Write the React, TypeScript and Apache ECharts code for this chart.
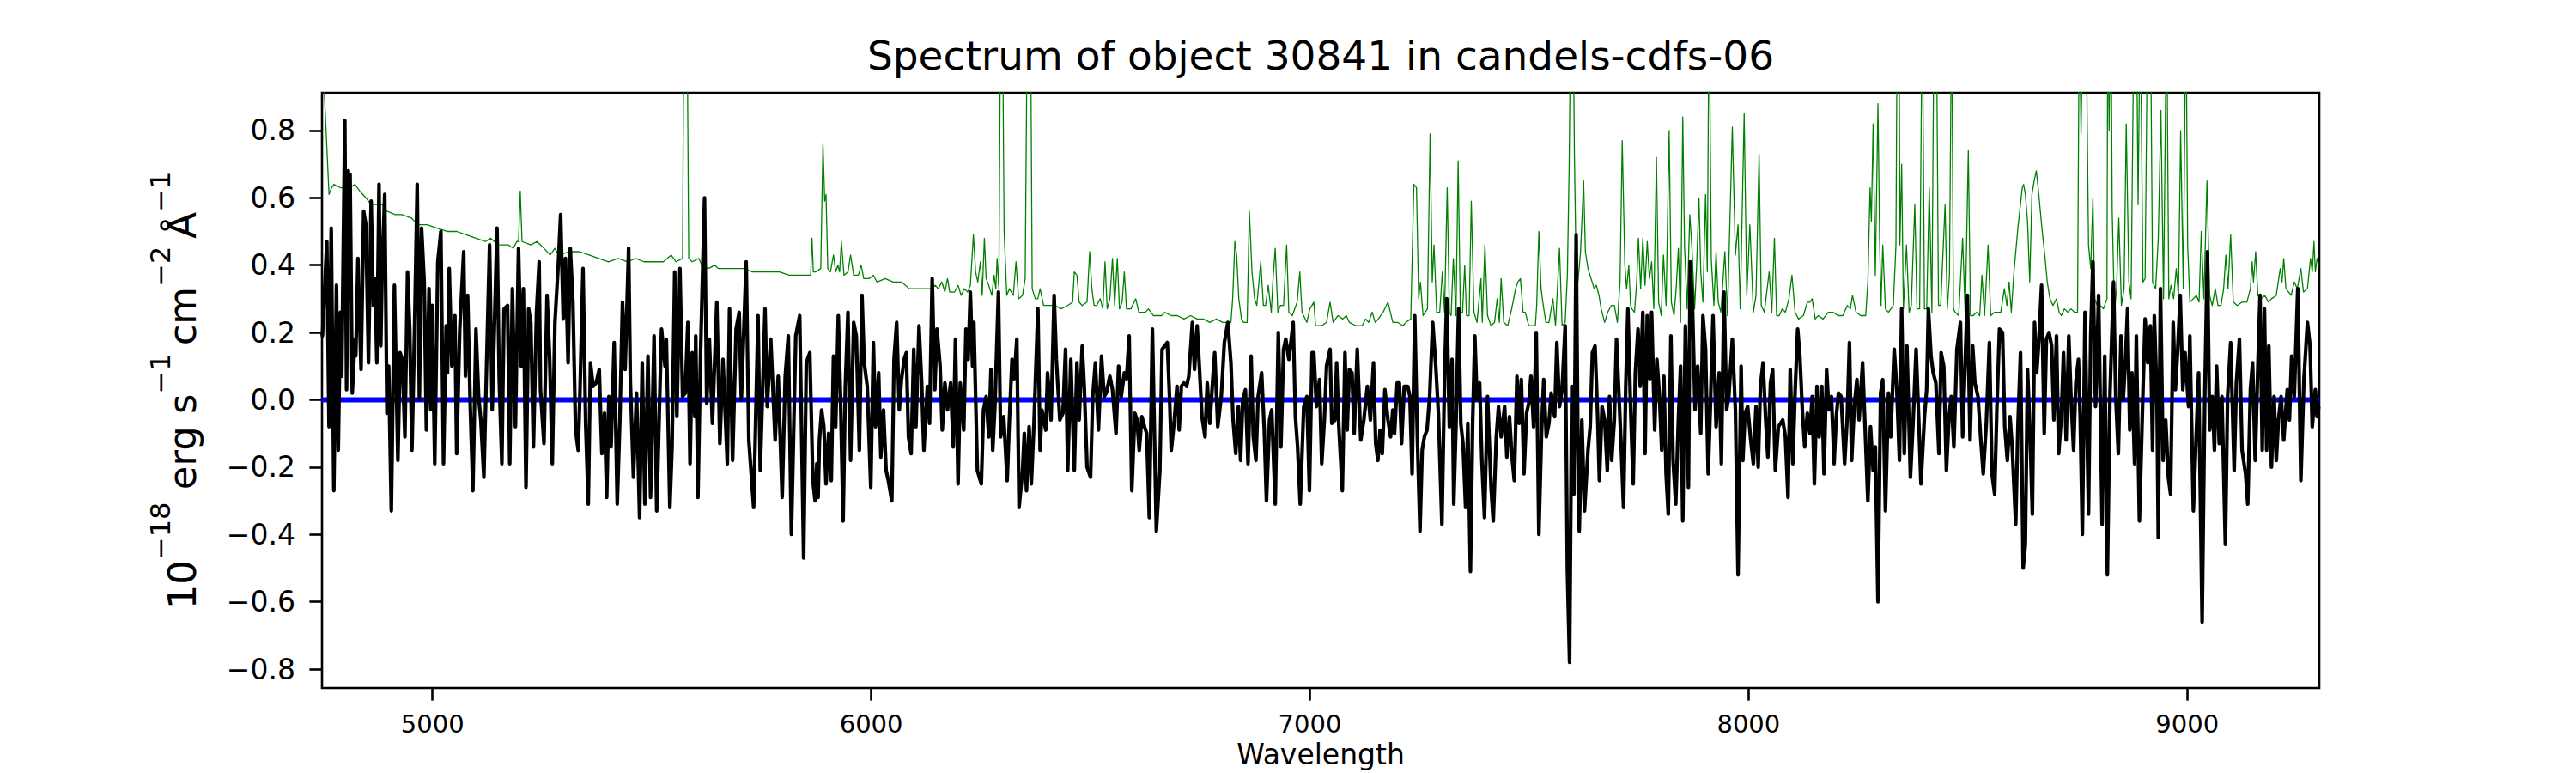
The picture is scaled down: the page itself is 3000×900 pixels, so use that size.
import React, { useEffect, useRef } from "react";
import * as echarts from "echarts";

const TITLE = "Spectrum of object 30841 in candels-cdfs-06";
const X_NAME = "Wavelength";
const X_RANGE = [4748, 9301];
const Y_RANGE = [-0.856, 0.912];
const X_TICKS = [5000, 6000, 7000, 8000, 9000];
const Y_TICKS = [-0.8, -0.6, -0.4, -0.2, 0, 0.2, 0.4, 0.6, 0.8];

// zero reference line
const zeroLine: [number, number][] = [[4748, 0], [9301, 0]];

// observed flux (black)
const flux: [number, number][] = [
[4748,0.20],[4749,0.19],[4759,0.47],[4764,-0.08],[4769,0.51],[4775,-0.27],[4781,0.34],[4785,-0.15],[4790,0.26],[4793,0.07],[4800,0.83],[4804,0.03],[4808,0.68],[4810,0.30],[4812,0.67],[4817,0.02],[4823,0.18],[4825,0.13],[4830,0.42],[4837,0.09],[4843,0.56],[4848,0.52],[4854,0.11],[4860,0.59],[4865,0.28],[4869,0.36],[4873,0.11],[4878,0.64],[4882,0.16],[4885,0.38],[4891,0.61],[4896,-0.04],[4900,0.10],[4906,-0.33],[4913,0.34],[4921,-0.18],[4926,0.14],[4931,0.12],[4937,-0.11],[4943,0.38],[4948,0.21],[4953,-0.15],[4959,0.21],[4965,0.64],[4970,0.00],[4975,0.51],[4981,0.35],[4986,-0.09],[4992,0.33],[4996,-0.03],[4999,0.28],[5005,-0.19],[5012,0.41],[5019,0.50],[5025,-0.19],[5031,0.22],[5034,0.08],[5038,0.39],[5044,0.10],[5051,0.25],[5055,-0.16],[5062,0.21],[5071,0.44],[5075,0.07],[5080,0.31],[5086,-0.02],[5092,-0.27],[5099,0.21],[5105,0.01],[5110,-0.06],[5117,-0.23],[5125,0.20],[5130,0.46],[5136,-0.03],[5147,0.51],[5152,0.06],[5158,-0.19],[5163,0.27],[5171,0.28],[5176,-0.19],[5182,0.33],[5189,-0.08],[5196,0.45],[5202,0.10],[5207,0.33],[5213,-0.26],[5219,0.27],[5224,0.23],[5230,-0.14],[5237,0.26],[5243,0.41],[5246,0.03],[5254,-0.13],[5261,0.31],[5267,0.12],[5273,-0.19],[5279,0.23],[5287,0.41],[5292,0.55],[5298,0.24],[5303,0.42],[5309,0.11],[5314,0.45],[5320,0.29],[5326,-0.09],[5332,-0.15],[5336,0.02],[5343,0.39],[5349,-0.07],[5355,-0.31],[5360,0.11],[5366,0.04],[5373,0.05],[5380,0.09],[5386,-0.16],[5392,-0.04],[5397,-0.29],[5402,0.01],[5407,-0.14],[5414,0.17],[5421,-0.31],[5427,-0.06],[5433,0.29],[5439,0.09],[5447,0.45],[5451,0.05],[5458,-0.23],[5465,0.02],[5472,-0.35],[5478,0.11],[5484,-0.31],[5491,0.13],[5497,-0.29],[5505,0.19],[5511,-0.33],[5522,0.21],[5530,0.10],[5533,0.18],[5541,-0.32],[5546,-0.14],[5552,0.38],[5557,-0.05],[5564,0.39],[5570,0.01],[5576,0.02],[5582,0.23],[5587,-0.19],[5592,0.14],[5598,-0.05],[5600,0.19],[5605,-0.29],[5611,0.14],[5620,0.60],[5625,-0.01],[5631,0.18],[5638,-0.07],[5648,0.29],[5655,-0.13],[5662,0.12],[5672,-0.19],[5677,0.27],[5684,-0.18],[5692,0.21],[5699,0.26],[5704,0.00],[5715,0.41],[5721,-0.12],[5732,-0.32],[5742,0.25],[5747,-0.21],[5758,0.27],[5763,-0.02],[5771,0.18],[5781,-0.12],[5788,0.07],[5797,-0.29],[5804,0.07],[5811,0.19],[5818,-0.40],[5828,0.19],[5837,0.25],[5846,-0.47],[5852,0.11],[5860,0.14],[5867,-0.24],[5872,-0.30],[5876,-0.19],[5879,-0.29],[5882,-0.12],[5887,-0.03],[5892,-0.08],[5897,-0.25],[5903,-0.10],[5909,-0.24],[5914,0.13],[5919,-0.08],[5925,0.25],[5930,0.01],[5936,-0.36],[5941,0.04],[5947,0.26],[5953,-0.18],[5960,0.23],[5966,0.19],[5973,-0.15],[5979,0.31],[5984,0.11],[5991,0.04],[5999,-0.26],[6005,0.17],[6010,-0.08],[6017,0.08],[6022,-0.17],[6028,-0.03],[6034,-0.21],[6039,-0.24],[6047,-0.30],[6052,0.12],[6058,0.23],[6064,-0.03],[6069,0.06],[6075,0.12],[6080,0.14],[6085,-0.11],[6091,-0.16],[6097,0.15],[6102,-0.08],[6109,0.22],[6115,0.05],[6120,-0.15],[6128,0.04],[6133,-0.07],[6139,0.36],[6145,0.03],[6150,0.21],[6157,0.10],[6162,-0.09],[6168,0.05],[6174,-0.03],[6181,0.05],[6187,-0.14],[6192,0.18],[6198,-0.25],[6203,0.05],[6211,-0.09],[6216,0.21],[6221,0.12],[6226,0.32],[6231,0.10],[6234,0.23],[6242,-0.21],[6251,-0.25],[6256,-0.03],[6262,0.01],[6268,-0.11],[6273,0.09],[6277,-0.15],[6282,-0.02],[6290,0.32],[6295,-0.11],[6302,-0.05],[6310,-0.24],[6315,-0.06],[6321,0.12],[6326,0.06],[6332,0.18],[6337,-0.32],[6345,-0.21],[6349,-0.10],[6354,-0.27],[6360,-0.08],[6365,-0.25],[6371,-0.07],[6380,0.27],[6385,-0.15],[6389,-0.03],[6398,-0.09],[6402,0.08],[6410,-0.06],[6417,0.31],[6422,0.12],[6430,-0.06],[6437,-0.04],[6443,0.15],[6448,-0.21],[6455,0.12],[6463,-0.21],[6469,0.11],[6474,-0.06],[6481,0.16],[6486,0.03],[6492,-0.20],[6500,-0.23],[6505,0.01],[6511,0.11],[6518,-0.09],[6525,0.13],[6531,0.01],[6536,0.02],[6544,0.07],[6550,0.03],[6558,-0.10],[6564,0.10],[6570,0.01],[6577,0.08],[6582,0.06],[6588,0.19],[6594,-0.27],[6601,-0.04],[6606,-0.06],[6611,-0.15],[6617,-0.05],[6623,-0.08],[6628,-0.10],[6634,-0.35],[6641,0.21],[6650,-0.39],[6658,-0.21],[6663,0.15],[6669,0.16],[6675,0.17],[6680,0.01],[6684,-0.15],[6691,-0.06],[6697,0.04],[6702,-0.09],[6707,0.04],[6713,0.05],[6719,0.04],[6724,0.07],[6732,0.23],[6737,0.09],[6743,0.22],[6748,0.10],[6754,-0.05],[6761,-0.11],[6766,0.05],[6772,-0.07],[6778,0.05],[6783,0.14],[6790,-0.08],[6798,0.01],[6805,0.17],[6813,0.23],[6820,0.11],[6825,-0.06],[6831,-0.16],[6837,-0.02],[6842,-0.18],[6847,0.00],[6853,0.03],[6859,-0.19],[6866,0.13],[6871,-0.11],[6877,-0.18],[6882,0.01],[6890,0.08],[6896,-0.09],[6901,-0.30],[6908,-0.06],[6913,-0.03],[6921,-0.31],[6928,0.20],[6934,-0.14],[6940,0.15],[6945,0.18],[6952,0.12],[6962,0.23],[6967,-0.05],[6972,-0.14],[6978,-0.31],[6986,-0.02],[6993,0.01],[6999,-0.27],[7005,0.14],[7009,0.14],[7015,-0.02],[7022,0.06],[7027,-0.19],[7033,-0.06],[7038,0.10],[7046,0.15],[7050,-0.07],[7057,-0.06],[7061,0.11],[7066,-0.08],[7074,-0.27],[7080,0.14],[7085,-0.09],[7090,0.09],[7096,0.08],[7101,-0.10],[7108,0.15],[7116,-0.12],[7123,-0.06],[7131,0.04],[7138,-0.06],[7145,0.11],[7150,-0.13],[7155,-0.18],[7160,-0.09],[7165,-0.16],[7171,0.03],[7178,-0.06],[7184,-0.11],[7189,-0.03],[7193,-0.10],[7199,0.05],[7204,0.05],[7209,-0.13],[7215,0.04],[7223,0.04],[7228,0.01],[7233,-0.22],[7239,0.25],[7245,-0.11],[7251,-0.39],[7256,-0.15],[7261,-0.11],[7267,-0.09],[7273,0.01],[7280,0.23],[7287,0.10],[7293,-0.04],[7301,-0.37],[7307,0.07],[7312,0.30],[7318,-0.08],[7324,0.12],[7328,-0.31],[7333,-0.08],[7339,0.27],[7344,-0.07],[7349,-0.13],[7355,-0.32],[7360,-0.07],[7366,-0.51],[7371,-0.07],[7376,0.19],[7381,0.00],[7387,0.05],[7392,-0.18],[7398,-0.35],[7405,0.01],[7413,-0.26],[7418,-0.36],[7425,-0.11],[7430,-0.02],[7436,-0.11],[7444,-0.02],[7449,-0.17],[7455,-0.05],[7460,-0.16],[7466,-0.24],[7472,0.07],[7477,-0.07],[7482,0.06],[7488,-0.22],[7494,-0.04],[7499,-0.01],[7504,0.07],[7510,-0.08],[7516,0.20],[7522,-0.40],[7528,-0.10],[7533,0.06],[7539,-0.11],[7545,-0.07],[7550,0.02],[7558,-0.05],[7563,0.17],[7569,-0.02],[7575,0.03],[7582,0.22],[7587,-0.51],[7592,-0.78],[7597,0.04],[7602,-0.28],[7607,0.49],[7611,-0.13],[7614,-0.39],[7620,-0.06],[7626,-0.33],[7634,-0.15],[7639,-0.08],[7644,0.14],[7650,0.16],[7656,-0.05],[7660,-0.24],[7666,-0.02],[7672,-0.06],[7678,-0.21],[7683,0.01],[7688,-0.18],[7694,-0.06],[7699,0.18],[7705,0.00],[7710,-0.15],[7715,-0.32],[7720,0.04],[7725,0.27],[7731,-0.02],[7737,-0.25],[7742,0.08],[7748,0.21],[7753,0.04],[7759,0.26],[7764,-0.16],[7769,0.25],[7775,0.06],[7779,0.26],[7786,-0.09],[7791,0.12],[7797,0.01],[7802,-0.15],[7807,0.07],[7812,-0.22],[7817,-0.34],[7823,0.19],[7828,-0.18],[7834,-0.31],[7840,-0.06],[7845,0.10],[7850,-0.36],[7856,0.22],[7863,-0.26],[7867,0.41],[7872,0.29],[7878,-0.03],[7884,0.10],[7891,-0.10],[7896,0.25],[7902,0.15],[7908,-0.22],[7913,-0.02],[7919,0.25],[7926,-0.08],[7933,0.08],[7938,-0.19],[7944,0.32],[7950,-0.03],[7955,0.01],[7963,0.18],[7970,-0.03],[7976,-0.52],[7983,0.10],[7987,-0.18],[7992,-0.04],[7998,-0.02],[8005,-0.12],[8011,-0.19],[8017,-0.02],[8022,-0.20],[8027,0.04],[8033,0.11],[8039,-0.06],[8044,-0.17],[8050,0.05],[8055,0.09],[8061,-0.21],[8068,-0.08],[8073,-0.07],[8078,-0.06],[8084,-0.11],[8090,-0.29],[8095,0.09],[8101,-0.19],[8106,0.02],[8112,0.21],[8117,0.13],[8123,-0.04],[8128,-0.14],[8134,-0.04],[8140,-0.10],[8145,0.01],[8150,-0.25],[8156,0.04],[8161,-0.11],[8167,0.04],[8172,-0.22],[8178,0.09],[8183,-0.03],[8189,0.01],[8195,-0.19],[8200,-0.05],[8205,0.02],[8211,0.01],[8219,-0.19],[8225,-0.05],[8230,0.17],[8235,-0.18],[8241,-0.02],[8247,0.06],[8252,-0.06],[8260,0.11],[8265,-0.06],[8272,-0.30],[8278,-0.08],[8284,-0.21],[8289,-0.14],[8295,-0.60],[8301,0.02],[8306,0.06],[8312,-0.33],[8319,0.02],[8324,-0.11],[8332,0.15],[8338,0.03],[8344,-0.18],[8349,0.27],[8355,-0.16],[8361,0.16],[8369,-0.23],[8375,-0.07],[8382,0.15],[8388,-0.06],[8393,-0.25],[8401,-0.05],[8406,0.03],[8410,0.27],[8416,0.13],[8421,0.08],[8427,0.05],[8434,-0.16],[8439,0.14],[8445,0.10],[8451,-0.21],[8457,-0.05],[8462,0.01],[8468,-0.14],[8475,0.15],[8483,0.23],[8488,-0.11],[8494,0.12],[8499,0.31],[8505,-0.12],[8511,0.16],[8516,0.05],[8523,0.01],[8529,-0.11],[8535,-0.22],[8542,-0.07],[8549,0.17],[8555,-0.22],[8561,-0.28],[8566,-0.03],[8572,0.21],[8579,0.20],[8584,-0.08],[8590,-0.18],[8596,-0.05],[8601,-0.14],[8609,-0.37],[8614,-0.08],[8620,0.14],[8626,-0.50],[8631,-0.43],[8636,0.09],[8642,-0.11],[8647,-0.34],[8652,0.23],[8657,0.08],[8662,0.18],[8668,0.34],[8674,-0.10],[8679,0.18],[8685,0.20],[8691,0.16],[8696,-0.06],[8702,0.19],[8707,-0.16],[8713,-0.05],[8718,0.14],[8724,-0.12],[8730,0.19],[8735,0.01],[8741,-0.15],[8746,0.05],[8752,0.12],[8756,-0.05],[8761,-0.40],[8767,0.26],[8775,-0.34],[8780,0.19],[8785,0.41],[8791,-0.02],[8798,0.31],[8806,-0.37],[8812,0.13],[8818,-0.52],[8824,0.02],[8832,0.35],[8837,0.01],[8843,-0.16],[8849,0.19],[8854,0.00],[8859,0.11],[8864,0.27],[8869,-0.09],[8874,0.08],[8880,-0.19],[8884,0.19],[8891,-0.36],[8899,0.02],[8904,0.24],[8910,0.11],[8916,0.22],[8921,-0.15],[8925,0.25],[8931,0.01],[8934,-0.41],[8939,0.33],[8945,-0.18],[8951,-0.06],[8957,-0.23],[8962,-0.28],[8968,0.23],[8973,0.03],[8978,0.14],[8984,0.31],[8990,0.03],[8995,0.14],[9003,-0.02],[9006,0.19],[9014,-0.33],[9020,-0.12],[9026,0.08],[9034,-0.66],[9040,0.01],[9046,0.44],[9051,-0.09],[9057,0.01],[9062,-0.15],[9067,0.10],[9073,-0.13],[9079,0.01],[9087,-0.43],[9092,0.01],[9099,0.17],[9107,-0.21],[9112,0.05],[9119,0.18],[9125,-0.15],[9133,-0.22],[9138,-0.31],[9144,0.03],[9149,0.11],[9155,-0.18],[9161,0.10],[9166,0.31],[9171,-0.15],[9176,0.27],[9181,-0.15],[9186,0.16],[9192,-0.20],[9198,0.01],[9203,-0.18],[9208,-0.06],[9214,0.01],[9220,-0.12],[9228,0.03],[9233,-0.06],[9238,0.13],[9244,0.01],[9252,0.33],[9259,-0.24],[9266,0.06],[9274,0.23],[9280,0.16],[9285,-0.08],[9292,0.03],[9296,-0.05],[9300,-0.02]
];

// noise / sky spectrum (green); values above the axis top are clipped
const noise: [number, number][] = [
[4748,1.2],[4753,0.92],[4764,0.61],[4770,0.63],[4775,0.64],[4790,0.63],[4812,0.63],[4823,0.64],[4834,0.62],[4848,0.60],[4860,0.58],[4870,0.58],[4885,0.58],[4896,0.56],[4915,0.55],[4930,0.55],[4952,0.54],[4966,0.52],[4988,0.52],[5010,0.51],[5033,0.50],[5055,0.50],[5077,0.49],[5099,0.48],[5121,0.47],[5132,0.48],[5150,0.46],[5173,0.46],[5184,0.45],[5192,0.47],[5196,0.47],[5200,0.62],[5204,0.47],[5224,0.46],[5238,0.47],[5254,0.45],[5268,0.43],[5279,0.45],[5287,0.43],[5312,0.44],[5335,0.44],[5357,0.43],[5379,0.42],[5401,0.41],[5423,0.42],[5445,0.41],[5463,0.42],[5482,0.41],[5504,0.41],[5526,0.41],[5544,0.43],[5555,0.41],[5570,0.42],[5573,1.2],[5580,1.2],[5584,0.42],[5592,0.41],[5607,0.42],[5614,0.40],[5629,0.39],[5644,0.40],[5651,0.39],[5670,0.39],[5695,0.39],[5710,0.39],[5729,0.38],[5747,0.38],[5769,0.38],[5791,0.38],[5813,0.37],[5835,0.37],[5858,0.37],[5862,0.37],[5865,0.48],[5868,0.38],[5874,0.38],[5885,0.39],[5890,0.76],[5894,0.59],[5897,0.61],[5901,0.39],[5907,0.38],[5914,0.43],[5919,0.38],[5924,0.40],[5928,0.38],[5932,0.47],[5938,0.37],[5947,0.38],[5953,0.43],[5960,0.37],[5971,0.37],[5977,0.40],[5983,0.36],[5995,0.36],[6005,0.37],[6013,0.35],[6032,0.36],[6050,0.35],[6069,0.35],[6087,0.33],[6109,0.33],[6124,0.33],[6135,0.33],[6146,0.34],[6153,0.33],[6161,0.35],[6168,0.32],[6174,0.36],[6179,0.32],[6190,0.32],[6198,0.34],[6205,0.31],[6212,0.33],[6220,0.32],[6226,0.34],[6233,0.49],[6238,0.38],[6243,0.35],[6249,0.41],[6253,0.31],[6258,0.48],[6262,0.36],[6268,0.34],[6275,0.31],[6280,0.37],[6284,0.33],[6287,0.42],[6291,0.33],[6295,1.2],[6299,1.2],[6303,0.50],[6309,0.31],[6315,0.33],[6324,0.31],[6330,0.41],[6336,0.30],[6345,0.31],[6351,0.36],[6356,1.2],[6363,1.2],[6367,0.33],[6374,0.30],[6380,0.30],[6385,0.33],[6393,0.28],[6404,0.28],[6419,0.28],[6433,0.27],[6448,0.28],[6459,0.29],[6463,0.38],[6469,0.37],[6474,0.29],[6481,0.28],[6492,0.29],[6498,0.44],[6503,0.33],[6508,0.28],[6514,0.28],[6522,0.30],[6528,0.27],[6533,0.41],[6538,0.27],[6544,0.30],[6550,0.42],[6555,0.28],[6561,0.42],[6566,0.27],[6572,0.29],[6577,0.38],[6582,0.27],[6592,0.27],[6603,0.30],[6610,0.26],[6625,0.26],[6632,0.27],[6643,0.25],[6662,0.25],[6669,0.26],[6684,0.25],[6698,0.25],[6713,0.24],[6728,0.25],[6743,0.24],[6757,0.24],[6772,0.23],[6787,0.24],[6801,0.23],[6820,0.23],[6824,0.30],[6829,0.47],[6833,0.43],[6838,0.30],[6844,0.24],[6849,0.23],[6857,0.23],[6862,0.56],[6868,0.38],[6874,0.30],[6879,0.28],[6888,0.41],[6894,0.28],[6899,0.28],[6905,0.34],[6912,0.26],[6916,0.36],[6921,0.45],[6927,0.26],[6933,0.28],[6940,0.28],[6947,0.46],[6952,0.26],[6960,0.25],[6971,0.29],[6977,0.38],[6982,0.26],[6993,0.23],[7000,0.27],[7009,0.29],[7013,0.22],[7027,0.22],[7038,0.23],[7046,0.29],[7053,0.23],[7064,0.25],[7075,0.24],[7083,0.25],[7090,0.23],[7105,0.22],[7119,0.22],[7127,0.24],[7134,0.23],[7142,0.26],[7149,0.23],[7156,0.24],[7167,0.26],[7178,0.29],[7189,0.23],[7200,0.23],[7212,0.22],[7219,0.23],[7230,0.24],[7237,0.64],[7243,0.63],[7248,0.30],[7252,0.35],[7258,0.25],[7263,0.26],[7268,0.27],[7274,0.79],[7279,0.35],[7283,0.46],[7289,0.26],[7296,0.26],[7302,0.38],[7307,0.26],[7313,0.63],[7318,0.26],[7322,0.25],[7327,0.42],[7333,0.25],[7338,0.71],[7343,0.26],[7348,0.26],[7353,0.40],[7357,0.25],[7363,0.25],[7368,0.59],[7374,0.26],[7381,0.23],[7390,0.36],[7393,0.23],[7399,0.46],[7405,0.25],[7413,0.22],[7421,0.23],[7427,0.30],[7432,0.23],[7436,0.36],[7442,0.23],[7451,0.22],[7460,0.27],[7469,0.33],[7474,0.35],[7480,0.36],[7486,0.26],[7491,0.26],[7499,0.22],[7506,0.22],[7514,0.22],[7517,0.28],[7522,0.50],[7527,0.33],[7532,0.28],[7538,0.23],[7545,0.23],[7554,0.30],[7560,0.22],[7569,0.45],[7575,0.22],[7582,0.23],[7587,0.37],[7591,0.69],[7595,1.2],[7600,1.2],[7603,0.73],[7607,0.38],[7611,0.35],[7617,0.44],[7624,0.65],[7628,0.44],[7634,0.39],[7641,0.36],[7648,0.33],[7653,0.34],[7659,0.31],[7664,0.27],[7672,0.23],[7679,0.26],[7687,0.28],[7694,0.28],[7701,0.23],[7707,0.35],[7712,0.77],[7718,0.40],[7722,0.33],[7727,0.40],[7731,0.28],[7734,0.27],[7740,0.26],[7745,0.35],[7749,0.48],[7754,0.33],[7759,0.48],[7764,0.34],[7769,0.47],[7774,0.36],[7779,0.41],[7784,0.27],[7790,0.72],[7795,0.29],[7801,0.25],[7806,0.43],[7812,0.28],[7819,0.80],[7824,0.29],[7830,0.25],[7835,0.33],[7840,0.45],[7845,0.23],[7850,0.84],[7854,0.46],[7860,0.27],[7866,0.55],[7871,0.45],[7877,0.27],[7882,0.41],[7887,0.60],[7891,0.38],[7896,0.29],[7902,0.61],[7906,0.38],[7910,1.2],[7915,0.42],[7921,0.28],[7926,0.44],[7931,0.29],[7937,0.26],[7946,0.44],[7952,0.25],[7963,0.81],[7970,0.43],[7976,0.52],[7981,0.27],[7990,0.85],[7996,0.31],[8003,0.52],[8011,0.26],[8017,0.31],[8024,0.73],[8029,0.28],[8036,0.26],[8047,0.38],[8053,0.26],[8059,0.48],[8064,0.25],[8070,0.25],[8077,0.27],[8084,0.26],[8092,0.30],[8099,0.37],[8106,0.26],[8114,0.24],[8125,0.25],[8134,0.29],[8140,0.29],[8145,0.30],[8152,0.24],[8159,0.25],[8170,0.24],[8182,0.26],[8193,0.26],[8204,0.25],[8215,0.25],[8225,0.28],[8232,0.27],[8237,0.31],[8245,0.26],[8256,0.25],[8267,0.25],[8272,0.35],[8277,0.63],[8280,0.53],[8284,0.82],[8289,0.37],[8295,0.88],[8299,0.46],[8302,0.28],[8306,0.46],[8312,0.27],[8319,0.26],[8330,0.28],[8336,0.46],[8339,1.2],[8343,1.2],[8345,0.46],[8349,0.70],[8353,0.27],[8360,0.46],[8366,0.26],[8371,0.28],[8379,0.58],[8384,0.27],[8390,0.27],[8396,1.2],[8401,0.27],[8406,0.27],[8412,0.63],[8418,0.26],[8423,1.2],[8428,1.2],[8433,0.28],[8438,0.28],[8448,0.58],[8453,0.27],[8458,0.37],[8463,1.2],[8467,0.27],[8471,0.26],[8479,0.25],[8488,0.48],[8494,0.25],[8501,0.74],[8506,0.25],[8512,0.25],[8520,0.26],[8527,0.25],[8532,0.37],[8538,0.25],[8546,0.46],[8552,0.25],[8561,0.26],[8568,0.26],[8575,0.26],[8583,0.33],[8589,0.28],[8594,0.35],[8599,0.26],[8605,0.38],[8614,0.51],[8624,0.63],[8627,0.64],[8631,0.61],[8636,0.53],[8641,0.35],[8646,0.61],[8651,0.65],[8656,0.68],[8661,0.62],[8668,0.52],[8676,0.42],[8681,0.35],[8687,0.30],[8694,0.28],[8702,0.30],[8708,0.26],[8713,0.25],[8720,0.27],[8728,0.26],[8735,0.27],[8743,0.26],[8750,0.26],[8754,1.2],[8758,0.79],[8763,1.2],[8769,1.2],[8775,0.46],[8780,0.39],[8785,0.60],[8789,0.30],[8795,0.28],[8802,0.28],[8809,0.27],[8817,0.30],[8819,1.2],[8822,0.80],[8826,1.2],[8829,0.56],[8834,0.26],[8839,0.33],[8844,0.54],[8850,0.28],[8856,0.33],[8861,0.82],[8867,0.35],[8872,0.30],[8879,1.2],[8884,1.2],[8888,0.58],[8893,1.2],[8899,0.35],[8904,0.36],[8910,1.2],[8916,1.2],[8921,0.35],[8928,0.33],[8934,0.48],[8940,0.86],[8946,0.30],[8953,1.2],[8958,0.30],[8963,0.34],[8969,0.30],[8975,0.39],[8980,0.31],[8985,0.80],[8991,0.33],[8997,1.2],[9001,0.46],[9006,0.29],[9014,0.30],[9021,0.31],[9027,0.29],[9032,0.50],[9038,0.30],[9045,0.65],[9051,0.31],[9057,0.28],[9064,0.33],[9070,0.28],[9077,0.28],[9083,0.33],[9088,0.43],[9093,0.33],[9099,0.49],[9105,0.29],[9114,0.28],[9125,0.29],[9136,0.29],[9144,0.33],[9148,0.41],[9151,0.35],[9156,0.44],[9161,0.31],[9168,0.30],[9177,0.31],[9185,0.29],[9192,0.30],[9203,0.31],[9212,0.39],[9216,0.35],[9220,0.42],[9225,0.33],[9237,0.31],[9244,0.35],[9251,0.33],[9259,0.39],[9265,0.32],[9274,0.33],[9281,0.42],[9285,0.38],[9289,0.47],[9292,0.38],[9296,0.42],[9300,0.40]
];

const FONT = "DejaVu Sans";

function yTick(v: number): string {
  const s = Math.abs(v).toFixed(1);
  return v < -1e-9 ? "\u2212" + s : s;
}

function xTick(v: number): string {
  return String(Math.round(v));
}

export default function App() {
  const ref = useRef<HTMLDivElement>(null);
  useEffect(() => {
    document.body.style.margin = "0";
    document.body.style.overflow = "hidden";
    const chart = echarts.init(ref.current!, null, { renderer: "svg", width: 3000, height: 900 });
    const lineBase = {
      type: "line",
      showSymbol: false,
      symbol: "none",
      silent: true,
      clip: true,
      animation: false,
    };
    chart.setOption({
      animation: false,
      backgroundColor: "#ffffff",
      title: {
        text: TITLE,
        left: 1538,
        top: 41,
        textAlign: "center",
        padding: 0,
        textStyle: { fontFamily: FONT, fontSize: 47, fontWeight: "normal", color: "#000" },
      },
      grid: {
        left: 375,
        top: 108,
        width: 2326,
        height: 693,
        show: true,
        borderColor: "#000",
        borderWidth: 2.6,
        backgroundColor: "transparent",
        containLabel: false,
      },
      xAxis: {
        type: "value",
        min: X_RANGE[0],
        max: X_RANGE[1],
        name: X_NAME,
        nameLocation: "middle",
        nameGap: 57,
        nameTextStyle: { fontFamily: FONT, fontSize: 33, color: "#000" },
        axisLine: { show: false, onZero: false },
        axisTick: { show: true, inside: false, length: 14.6, customValues: X_TICKS, lineStyle: { color: "#000", width: 2.6 } },
        axisLabel: { customValues: X_TICKS, formatter: xTick, fontFamily: FONT, fontSize: 29, color: "#000", margin: 27 },
        splitLine: { show: false },
      },
      yAxis: {
        type: "value",
        min: Y_RANGE[0],
        max: Y_RANGE[1],
        name: "{m|10}{s|\u221218}{m| erg s}{s|\u22121}{m|\u2009cm}{s|\u22122}{m|\u2009\u00c5}{s|\u22121}",
        nameLocation: "middle",
        nameRotate: 90,
        nameGap: 140,
        nameTextStyle: {
          color: "#000",
          fontFamily: FONT,
          rich: {
            m: { fontFamily: FONT, fontSize: 45, lineHeight: 64, verticalAlign: "bottom", color: "#000" },
            s: { fontFamily: FONT, fontSize: 32, lineHeight: 32, verticalAlign: "top", color: "#000" },
          },
        },
        axisLine: { show: false, onZero: false },
        axisTick: { show: true, inside: false, length: 14.6, customValues: Y_TICKS, lineStyle: { color: "#000", width: 2.6 } },
        axisLabel: { customValues: Y_TICKS, formatter: yTick, fontFamily: FONT, fontSize: 33, color: "#000", margin: 31 },
        splitLine: { show: false },
      },
      series: [
        { ...lineBase, name: "zero", data: zeroLine, z: 1, lineStyle: { color: "#0000ff", width: 6 } },
        { ...lineBase, name: "noise", data: noise, z: 2, lineStyle: { color: "#008000", width: 1.3, join: "round" } },
        { ...lineBase, name: "flux", data: flux, z: 3, lineStyle: { color: "#000000", width: 4.2, join: "round" } },
      ],
    });
    return () => chart.dispose();
  }, []);
  return <div ref={ref} style={{ width: 3000, height: 900 }} />;
}
